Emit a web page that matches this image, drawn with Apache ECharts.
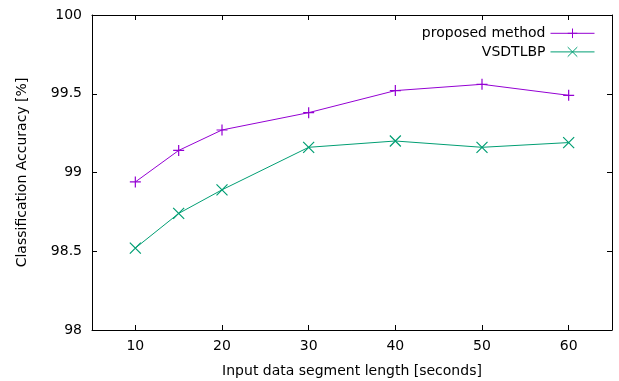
<!DOCTYPE html>
<html>
<head>
<meta charset="utf-8">
<script src="https://cdn.jsdelivr.net/npm/echarts@6/dist/echarts.min.js"></script>
<style>
  html, body { margin: 0; padding: 0; background: #fff; }
  #chart { width: 619px; height: 381px; }
</style>
</head>
<body>
<div id="chart"></div>
<script>
const segmentLengths = [10, 15, 20, 30, 40, 50, 60];
const proposedMethod = [98.94, 99.14, 99.27, 99.38, 99.52, 99.56, 99.49];
const vsdtlbp = [98.52, 98.74, 98.89, 99.16, 99.20, 99.16, 99.19];

const plusSymbol = 'path://M0,-1L0,1M-1,0L1,0';
const crossSymbol = 'path://M-1,-1L1,1M1,-1L-1,1';
const font = 'DejaVu Sans';
const fs = 14;

const pairs = (ys) => segmentLengths.map((x, i) => [x, ys[i]]);

const chart = echarts.init(document.getElementById('chart'));

const tickAxis = {
  axisLine: { show: true, lineStyle: { color: '#000', width: 1 } },
  axisTick: { show: true, inside: true, length: 5, lineStyle: { color: '#000' } },
  splitLine: { show: false },
};
const xTicks = { show: true, inside: true, length: 5, lineStyle: { color: '#000' },
  customValues: [10, 20, 30, 40, 50, 60] };

chart.setOption({
  animation: false,
  textStyle: { fontFamily: font },
  grid: { left: 92, right: 7, top: 15, bottom: 51, outerBoundsMode: 'none' },
  legend: {
    orient: 'vertical',
    right: 19,
    top: 21,
    align: 'right',
    itemWidth: 44,
    itemHeight: 12,
    itemGap: 4,
    textStyle: { fontFamily: font, fontSize: fs, color: '#000' },
    lineStyle: { width: 1 },
    itemStyle: { borderWidth: 1 },
    data: ['proposed method', 'VSDTLBP'],
  },
  xAxis: [
    Object.assign({}, tickAxis, {
      type: 'value', min: 5, max: 65, interval: 5,
      name: 'Input data segment length [seconds]',
      nameLocation: 'middle', nameGap: 34,
      nameTextStyle: { fontFamily: font, fontSize: fs, color: '#000' },
      axisLabel: {
        color: '#000', fontSize: fs, fontFamily: font, margin: 9,
        formatter: (v) => (v % 10 === 0 ? String(v) : ''),
      },
      axisTick: xTicks,
    }),
    Object.assign({}, tickAxis, {
      type: 'value', min: 5, max: 65, interval: 5, position: 'top',
      axisLabel: { show: false },
      axisTick: xTicks,
    }),
  ],
  yAxis: [
    Object.assign({}, tickAxis, {
      type: 'value', min: 98, max: 100, interval: 0.5,
      name: 'Classification Accuracy [%]',
      nameLocation: 'middle', nameGap: 63,
      nameTextStyle: { fontFamily: font, fontSize: fs, color: '#000' },
      axisLabel: { color: '#000', fontSize: fs, fontFamily: font, margin: 10 },
    }),
    Object.assign({}, tickAxis, {
      type: 'value', min: 98, max: 100, interval: 0.5, position: 'right',
      axisLabel: { show: false },
    }),
  ],
  series: [
    {
      name: 'proposed method',
      type: 'line',
      data: pairs(proposedMethod),
      symbol: plusSymbol,
      symbolSize: 11,
      color: '#9400d3',
      lineStyle: { color: '#9400d3', width: 1 },
      itemStyle: { color: 'none', borderColor: '#9400d3', borderWidth: 1.2 },
    },
    {
      name: 'VSDTLBP',
      type: 'line',
      data: pairs(vsdtlbp),
      symbol: crossSymbol,
      symbolSize: 11,
      color: '#009e73',
      lineStyle: { color: '#009e73', width: 1 },
      itemStyle: { color: 'none', borderColor: '#009e73', borderWidth: 1.2 },
    },
  ],
});
</script>
</body>
</html>
